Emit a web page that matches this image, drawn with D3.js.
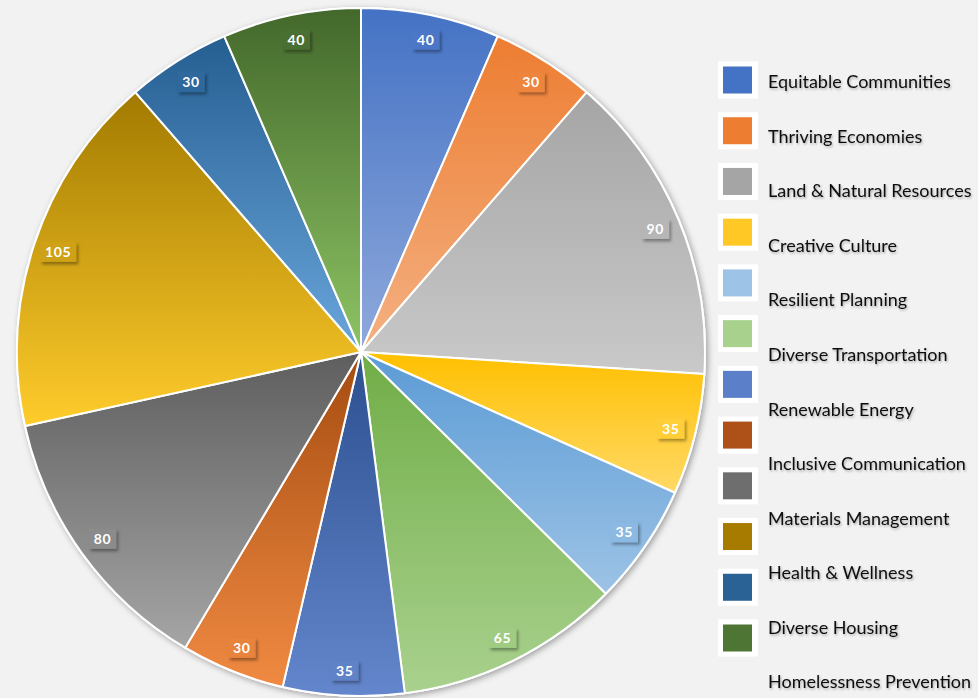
<!DOCTYPE html>
<html>
<head>
<meta charset="utf-8">
<script src="https://cdn.jsdelivr.net/npm/d3@7"></script>
<style>
  body { margin:0; background:#f2f2f2; }
  svg { display:block; }
</style>
</head>
<body>
<div id="chart-area"></div>
<script>
// data
var categories = ["Equitable Communities", "Thriving Economies", "Land & Natural Resources",
  "Creative Culture", "Resilient Planning", "Diverse Transportation", "Renewable Energy",
  "Inclusive Communication", "Materials Management", "Health & Wellness",
  "Diverse Housing", "Homelessness Prevention"];
var values = [40, 30, 90, 35, 35, 65, 35, 30, 80, 105, 30, 40];

// slice gradient colours (top -> bottom) and legend swatches
var topColors = ["#4472c4", "#ed7d31", "#a5a5a5", "#ffc000", "#5b9bd5", "#70ad47",
  "#2b4f8f", "#a54c10", "#5e5e5e", "#a27a00", "#255e91", "#43682b"];
var bottomColors = ["#8fa9dc", "#f4b183", "#c9c9c9", "#ffd966", "#9dc3e6", "#a9d18e",
  "#6486cc", "#f08a42", "#a5a5a5", "#ffcc2c", "#6aa6dc", "#8ec464"];
var swatchColors = ["#4472c4", "#ed7d31", "#a5a5a5", "#ffc825", "#9dc3e6", "#a9d18e",
  "#5b7fc8", "#ae5119", "#6e6e6e", "#a67b00", "#2a6296", "#4e7533"];

var width = 978, height = 698;
var cx = 361, cy = 352, radius = 344;

var svg = d3.select("#chart-area")
    .append("svg")
    .attr("width", width)
    .attr("height", height);

svg.append("rect").attr("width", width).attr("height", height).attr("fill", "#f2f2f2");

var defs = svg.append("defs");

var pieShadow = defs.append("filter").attr("id", "pieShadow")
    .attr("x", "-10%").attr("y", "-10%").attr("width", "120%").attr("height", "120%");
pieShadow.append("feDropShadow").attr("dx", 2).attr("dy", 2)
    .attr("stdDeviation", 3).attr("flood-color", "#000").attr("flood-opacity", 0.35);

var boxShadow = defs.append("filter").attr("id", "boxShadow")
    .attr("x", "-30%").attr("y", "-30%").attr("width", "170%").attr("height", "180%");
boxShadow.append("feDropShadow").attr("dx", 2).attr("dy", 2.5)
    .attr("stdDeviation", 1.6).attr("flood-color", "#000").attr("flood-opacity", 0.35);

var textShadow = defs.append("filter").attr("id", "textShadow")
    .attr("x", "-10%").attr("y", "-30%").attr("width", "120%").attr("height", "170%");
textShadow.append("feDropShadow").attr("dx", 1).attr("dy", 1.5)
    .attr("stdDeviation", 1.2).attr("flood-color", "#000").attr("flood-opacity", 0.3);

var pie = d3.pie().sort(null).value(function(d){ return d; });
var arcs = pie(values);

var arc = d3.arc().innerRadius(0).outerRadius(radius);
var labelArc = d3.arc().innerRadius(319).outerRadius(319);

var g = svg.append("g").attr("transform", "translate(" + cx + "," + cy + ")");

// shadowed disc under the pie
g.append("circle").attr("r", radius + 1).attr("fill", "#fff").attr("filter", "url(#pieShadow)");

var boxes = []; // bbox of every slice, for the label fills

var slices = g.selectAll("path.slice")
    .data(arcs)
    .enter()
    .append("path")
        .attr("class", "slice")
        .attr("d", arc)
        .attr("stroke", "#fff")
        .attr("stroke-width", 2)
        .attr("stroke-linejoin", "round");

// one vertical gradient per slice, spanning that slice's box
slices.each(function(d, i){
    var bb = this.getBBox();
    boxes[i] = bb;
    var grad = defs.append("linearGradient")
        .attr("id", "grad" + i)
        .attr("gradientUnits", "userSpaceOnUse")
        .attr("x1", 0).attr("x2", 0)
        .attr("y1", bb.y).attr("y2", bb.y + bb.height);
    grad.append("stop").attr("offset", "0%").attr("stop-color", topColors[i]);
    grad.append("stop").attr("offset", "100%").attr("stop-color", bottomColors[i]);
    d3.select(this).attr("fill", "url(#grad" + i + ")");
});

// data labels
var labels = g.selectAll("g.lbl")
    .data(arcs)
    .enter()
    .append("g")
        .attr("class", "lbl")
        .attr("transform", function(d){ return "translate(" + labelArc.centroid(d) + ")"; });

labels.each(function(d, i){
    var lg = d3.select(this);
    var ly = labelArc.centroid(d)[1];
    var bb = boxes[i];
    var tt = Math.max(0, Math.min(1, (ly - bb.y) / bb.height));
    var fill = d3.interpolateRgb(topColors[i], bottomColors[i])(tt);
    var rect = lg.append("rect").attr("filter", "url(#boxShadow)")
        .attr("fill", fill);
    var t = lg.append("text")
        .attr("text-anchor", "middle")
        .attr("dy", "0.36em")
        .attr("fill", "#fff")
        .attr("font-family", "Lato, 'Open Sans', sans-serif")
        .attr("font-weight", "bold")
        .attr("font-size", 14)
        .attr("letter-spacing", 0.6)
        .text(d.data);
    var w = t.node().getComputedTextLength() + 10;
    rect.attr("x", -w / 2).attr("y", -10).attr("width", w).attr("height", 20);
});

// legend
var idx = d3.range(categories.length);
var swatchY = d3.scaleLinear().domain([0, 11]).range([80, 638]);
var textY = d3.scaleLinear().domain([0, 11]).range([82, 682]);

var legend = svg.append("g");

legend.selectAll("rect.box")
    .data(idx)
    .enter()
    .append("rect")
        .attr("class", "box")
        .attr("x", 718)
        .attr("y", function(i){ return swatchY(i) - 18.5; })
        .attr("width", 40)
        .attr("height", 37)
        .attr("fill", "#fff");

legend.selectAll("rect.sw")
    .data(idx)
    .enter()
    .append("rect")
        .attr("class", "sw")
        .attr("x", 723)
        .attr("y", function(i){ return swatchY(i) - 13.5; })
        .attr("width", 29)
        .attr("height", 27)
        .attr("fill", function(i){ return swatchColors[i]; });

legend.selectAll("text")
    .data(idx)
    .enter()
    .append("text")
        .attr("x", 768)
        .attr("y", function(i){ return textY(i); })
        .attr("dy", "0.35em")
        .attr("fill", "#0d0d0d")
        .attr("font-family", "Lato, 'Open Sans', sans-serif")
        .attr("font-size", 18)
        .attr("filter", "url(#textShadow)")
        .text(function(i){ return categories[i]; });
</script>
</body>
</html>
